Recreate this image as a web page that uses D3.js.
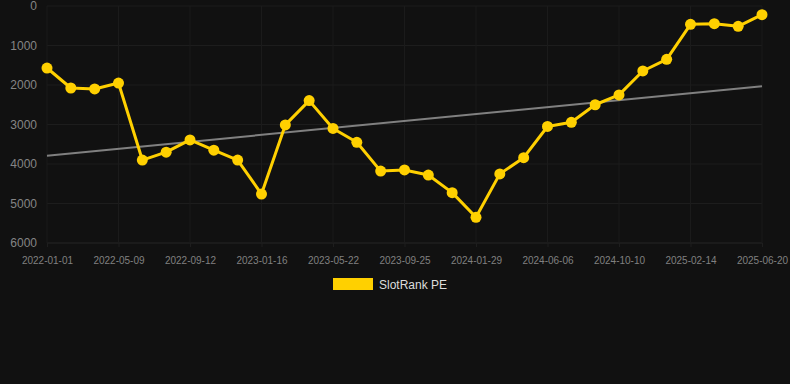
<!DOCTYPE html>
<html><head><meta charset="utf-8">
<script src="https://cdn.jsdelivr.net/npm/d3@7"></script>
<style>
html,body{margin:0;padding:0;background:#111111;}
svg{display:block;font-family:"Liberation Sans",Arial,Helvetica,sans-serif;}
</style></head><body>
<svg id="chart" width="790" height="384"></svg>
<script>
const dates = ["2022-01-01","2022-02-13","2022-03-27","2022-05-09","2022-06-20","2022-08-01","2022-09-12","2022-10-24","2022-12-05","2023-01-16","2023-02-27","2023-04-10","2023-05-22","2023-07-03","2023-08-14","2023-09-25","2023-11-06","2023-12-18","2024-01-29","2024-03-12","2024-04-24","2024-06-06","2024-07-18","2024-08-29","2024-10-10","2024-11-21","2025-01-02","2025-02-14","2025-03-28","2025-05-09","2025-06-20"];
const rank = [1570,2076,2100,1950,3900,3700,3390,3650,3900,4760,3010,2395,3100,3450,4180,4150,4280,4725,5350,4250,3840,3050,2945,2500,2250,1645,1350,465,448,515,220];
const trend = [3790,2030];
const yTicks = [0,1000,2000,3000,4000,5000,6000];
const xTickLabels = ["2022-01-01","2022-05-09","2022-09-12","2023-01-16","2023-05-22","2023-09-25","2024-01-29","2024-06-06","2024-10-10","2025-02-14","2025-06-20"];
const seriesName = "SlotRank PE";

const svg = d3.select("#chart");
const m = {left:47,right:28,top:6,bottom:141};
const W = 790, H = 384;
const x = d3.scalePoint().domain(dates).range([m.left, W-m.right]);
const y = d3.scaleLinear().domain([0,6000]).range([m.top, H-m.bottom]);

// grid
const g = svg.append("g");
g.selectAll("line.h").data(yTicks).join("line")
  .attr("x1",m.left).attr("x2",W-m.right)
  .attr("y1",d=>y(d)).attr("y2",d=>y(d))
  .attr("stroke",d=>d===6000?"#262626":"#1d1d1d").attr("stroke-width",1);
g.selectAll("line.v").data(xTickLabels).join("line")
  .attr("x1",d=>x(d)).attr("x2",d=>x(d))
  .attr("y1",m.top).attr("y2",H-m.bottom)
  .attr("stroke","#1b1b1b").attr("stroke-width",1);

// y axis labels
const yAxis = d3.axisLeft(y).tickValues(yTicks).tickSize(0).tickPadding(10).tickFormat(d3.format("d"));
svg.append("g").attr("transform",`translate(${m.left},0)`).call(yAxis)
  .call(s=>s.select(".domain").remove())
  .selectAll("text").attr("fill","#858585").style("font-size","12px")
  .style("font-family","'Liberation Sans',Arial,sans-serif");

// x axis labels
const xAxis = d3.axisBottom(x).tickValues(xTickLabels).tickSize(4).tickPadding(10);
svg.append("g").attr("transform",`translate(0,${H-m.bottom})`).call(xAxis)
  .call(s=>s.select(".domain").remove())
  .call(s=>s.selectAll(".tick line").attr("stroke","#1e1e1e"))
  .selectAll("text").attr("fill","#808080").style("font-size","10px")
  .style("font-family","'Liberation Sans',Arial,sans-serif");

// trend line
svg.append("line")
  .attr("x1",x(dates[0])).attr("y1",y(trend[0]))
  .attr("x2",x(dates[dates.length-1])).attr("y2",y(trend[1]))
  .attr("stroke","#808080").attr("stroke-width",2);

// series line
const line = d3.line().x((d,i)=>x(dates[i])).y(d=>y(d));
svg.append("path").datum(rank).attr("d",line)
  .attr("fill","none").attr("stroke","#FFD000").attr("stroke-width",3)
  .attr("stroke-linejoin","round");
svg.selectAll("circle.pt").data(rank).join("circle")
  .attr("cx",(d,i)=>x(dates[i])).attr("cy",d=>y(d)).attr("r",5.5)
  .attr("fill","#FFD000");

// legend
const lg = svg.append("g");
lg.append("rect").attr("x",333).attr("y",278).attr("width",40).attr("height",12).attr("fill","#FFD000");
lg.append("text").attr("x",379).attr("y",288.5).text(seriesName)
  .attr("fill","#dddddd").style("font-size","12px");
</script>
</body></html>
